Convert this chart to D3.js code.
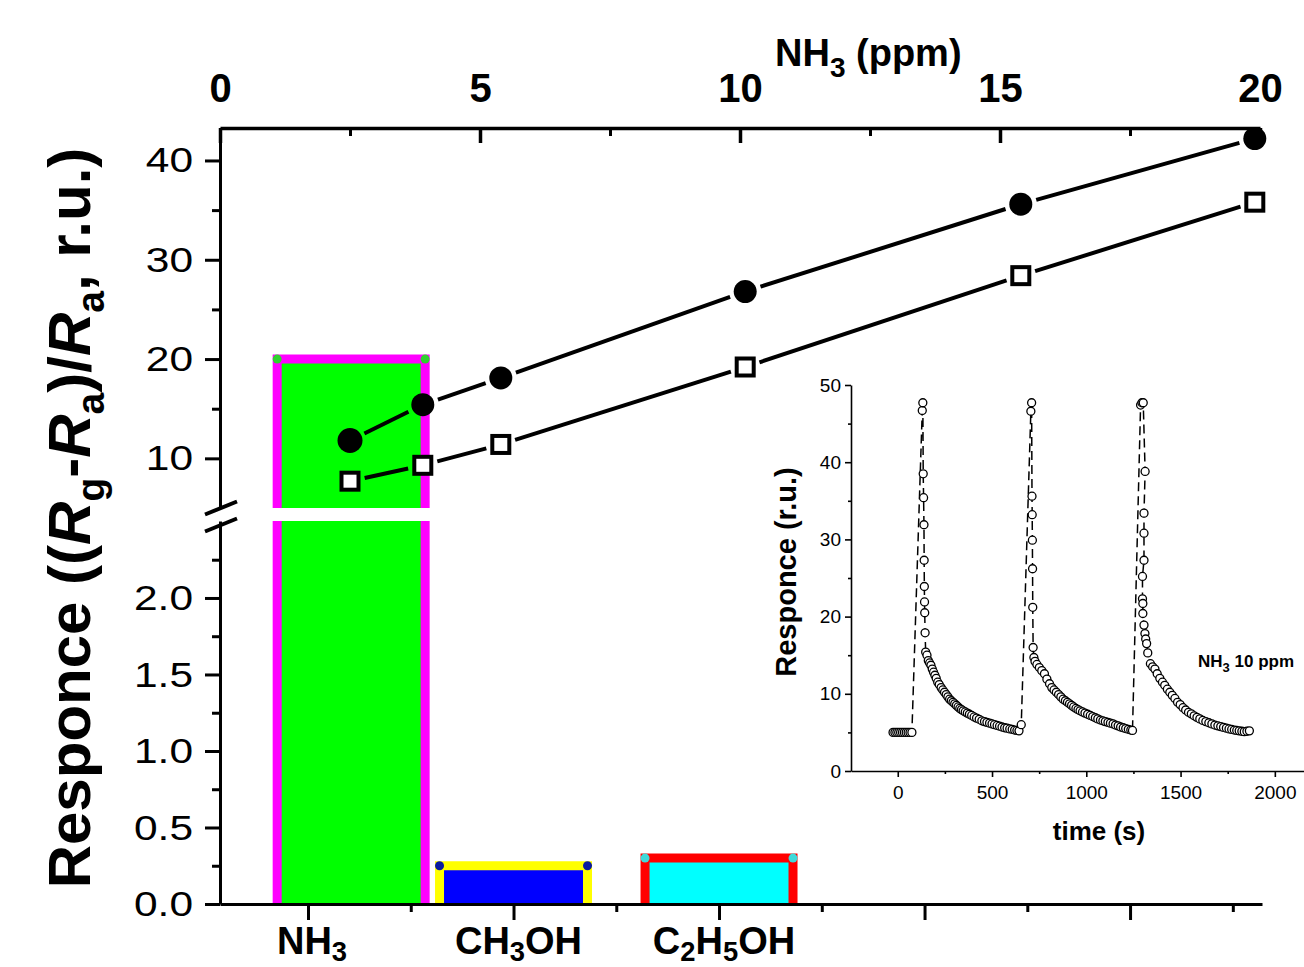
<!DOCTYPE html>
<html>
<head>
<meta charset="utf-8">
<script src="https://cdn.jsdelivr.net/npm/d3@7"></script>
<style>
  body { margin: 0; background: #fff; }
  svg { display: block; font-family: "Liberation Sans", Arial, sans-serif; }
</style>
</head>
<body>
<script>
// main plot: response vs NH3 concentration (top axis, upper y segment)
var ppm        = [2.5, 3.9, 5.4, 10.1, 15.4, 19.9];
var respClosed = [11.8, 15.4, 18.1, 26.8, 35.6, 42.2];
var respOpen   = [7.7, 9.3, 11.4, 19.2, 28.4, 35.8];

// bars: response to the three gases (bottom axis)
var gases    = ["NH3", "CH3OH", "C2H5OH"];
var gasPos   = [1.21, 2, 3];
var gasResp  = [20, 0.25, 0.30];
var gasFill  = ["#00ff00", "#0000ff", "#00ffff"];
var gasEdge  = ["#ff00ff", "#ffff00", "#ff0000"];
var gasDot   = ["#2fd12f", "#0a1aa0", "#3fd9d9"];

// tick labels
var topTicks     = [0, 5, 10, 15, 20];
var topMinor     = [2.5, 7.5, 12.5, 17.5];
var upTicks      = [10, 20, 30, 40];
var upMinor      = [15, 25, 35];
var loTicks      = [0, 0.5, 1.0, 1.5, 2.0];
var loMinor      = [0.25, 0.75, 1.25, 1.75, 2.25];
var catTicks     = [1, 2, 3, 4, 5];
var catMinor     = [1.5, 2.5, 3.5, 4.5, 5.5];

// inset: response vs time, NH3 10 ppm, three cycles
var pulse1T = [-25, -15, -5, 5, 15, 25, 35, 45, 55, 65, 75,
  130, 133, 135, 137, 139, 140, 141, 142, 143, 145, 148,
  155, 162, 169, 176, 183, 190, 197, 204, 212, 220, 230, 239, 248, 257, 266, 275, 284, 293, 302, 311,
  320, 329, 338, 347, 358, 369, 380, 392, 405, 418, 432, 446, 460, 473, 487, 500, 513, 527, 540, 553,
  567, 580, 594, 607, 620, 632, 643];
var pulse1R = [5, 5, 5, 5, 5, 5, 5, 5, 5, 5, 5,
  46.7, 47.7, 38.5, 35.4, 31.9, 27.3, 23.9, 21.9, 20.5, 17.9, 15.4,
  15.0, 14.3, 14.0, 13.7, 13.2, 12.8, 12.4, 12.0, 11.5, 11.2, 10.8, 10.5, 10.2, 9.9, 9.6, 9.3, 9.1, 8.9, 8.7, 8.5,
  8.3, 8.1, 7.95, 7.8, 7.65, 7.5, 7.35, 7.2, 7.0, 6.85, 6.7, 6.5, 6.4, 6.3, 6.2, 6.1, 6.0, 5.9, 5.8, 5.7,
  5.6, 5.55, 5.45, 5.4, 5.3, 5.25, 5.2];
var pulse2T = [655, 706, 710, 712, 713, 714, 715, 716, 718, 722,
  728, 738, 751, 764, 778, 791, 805, 817, 829, 841, 853, 865, 877, 889, 900, 911, 922, 933, 945, 956,
  967, 980, 993, 1007, 1021, 1034, 1048, 1061, 1075, 1088, 1101, 1115, 1128, 1142, 1155, 1169, 1182, 1196, 1209, 1223,
  1236, 1245];
var pulse2R = [6.0, 46.6, 47.7, 35.6, 33.2, 29.9, 26.2, 21.2, 16.0, 14.7,
  14.2, 13.8, 13.4, 13.0, 12.6, 11.9, 11.3, 10.8, 10.5, 10.2, 9.9, 9.6, 9.3, 9.1, 8.9, 8.7, 8.5, 8.3, 8.1, 7.95,
  7.8, 7.65, 7.5, 7.35, 7.2, 7.05, 6.9, 6.75, 6.6, 6.5, 6.4, 6.3, 6.2, 6.1, 5.95, 5.85, 5.7, 5.6, 5.5, 5.4,
  5.3, 5.25];
var pulse3T = [1288, 1295, 1302, 1312, 1306, 1306, 1306, 1298, 1298, 1300, 1300, 1306, 1311, 1315, 1320, 1326,
  1340, 1352, 1364, 1376, 1390, 1404, 1416, 1430, 1443, 1456, 1470, 1484, 1498, 1513, 1527, 1542, 1557, 1572, 1587, 1602,
  1618, 1634, 1650, 1666, 1682, 1698, 1713, 1728, 1743, 1757, 1771, 1785, 1798, 1811, 1825, 1838, 1852, 1865];
var pulse3R = [47.4, 47.7, 47.7, 38.8, 33.4, 30.8, 27.3, 25.2, 22.3, 21.7, 20.4, 18.9, 17.8, 17.1, 16.5, 15.3,
  13.9, 13.5, 13.2, 12.6, 12.0, 11.5, 11.1, 10.6, 10.2, 9.8, 9.4, 8.9, 8.6, 8.2, 7.9, 7.6, 7.4, 7.15, 6.95, 6.75,
  6.55, 6.4, 6.25, 6.1, 5.95, 5.85, 5.75, 5.65, 5.55, 5.45, 5.38, 5.3, 5.25, 5.2, 5.15, 5.1, 5.15, 5.2];
var insetXTicks = [0, 500, 1000, 1500, 2000];
var insetXMinor = [250, 750, 1250, 1750];
var insetYTicks = [0, 10, 20, 30, 40, 50];
var insetYMinor = [5, 15, 25, 35, 45];

var w = 1304, h = 967;
var svg = d3.select("body").append("svg").attr("width", w).attr("height", h);

// scales
var xTop = d3.scaleLinear().domain([0, 20]).range([220, 1260]);
var xCat = d3.scaleLinear().domain([0.5718, 5.642]).range([220, 1262]);
var yUp  = d3.scaleLinear().domain([5, 43.27]).range([508, 128]);
var yLo  = d3.scaleLinear().domain([0, 2.503]).range([904, 521]);

// bars (split across the axis break)
var barW = 0.72;
gases.forEach(function (g, i) {
  var x0 = xCat(gasPos[i] - barW / 2), x1 = xCat(gasPos[i] + barW / 2);
  var v = gasResp[i];
  var loMax = yLo.domain()[1], upMin = yUp.domain()[0];
  var segs = [{ y0: yLo(0), y1: yLo(Math.min(v, loMax)), cap: v <= loMax }];
  if (v > upMin) segs.push({ y0: yUp(upMin), y1: yUp(v), cap: true });

  segs.forEach(function (s) {
    svg.append("rect")
      .attr("x", x0).attr("y", s.y1)
      .attr("width", x1 - x0).attr("height", s.y0 - s.y1)
      .attr("fill", gasFill[i]);
    var p = d3.path();
    p.moveTo(x0, s.y0); p.lineTo(x0, s.y1);
    if (s.cap) p.lineTo(x1, s.y1); else p.moveTo(x1, s.y1);
    p.lineTo(x1, s.y0);
    svg.append("path").attr("d", p.toString())
      .attr("fill", "none").attr("stroke", gasEdge[i]).attr("stroke-width", 9);
    if (s.cap) {
      [x0, x1].forEach(function (cx) {
        svg.append("circle").attr("cx", cx).attr("cy", s.y1).attr("r", 4.5).attr("fill", gasDot[i]);
      });
    }
  });
});

function axisStyle(g, sw) {
  g.attr("font-family", null).attr("font-size", null);
  g.selectAll("line").attr("stroke", "#000").attr("stroke-width", sw);
  g.selectAll("path").attr("stroke", "#000").attr("stroke-width", sw);
  g.selectAll("text").attr("fill", "#000");
}

// top axis (ppm)
var gTop = svg.append("g").attr("transform", "translate(0,128)")
  .call(d3.axisTop(xTop).tickValues(topTicks).tickSizeInner(-15).tickSizeOuter(0).tickPadding(26));
axisStyle(gTop, 3.5);
gTop.selectAll("text").attr("font-size", 40).attr("font-weight", "bold");
var gTopM = svg.append("g").attr("transform", "translate(0,128)")
  .call(d3.axisTop(xTop).tickValues(topMinor).tickSizeInner(-8).tickSizeOuter(0).tickFormat(""));
gTopM.select(".domain").remove();
axisStyle(gTopM, 3);

// left axis, upper and lower parts
function leftAxis(scale, ticks, minor, fmt) {
  var g = svg.append("g").attr("transform", "translate(220,0)")
    .call(d3.axisLeft(scale).tickValues(ticks).tickSize(15).tickSizeOuter(0).tickFormat(fmt));
  axisStyle(g, 3);
  g.selectAll("text").attr("font-size", 36).attr("x", null)
    .attr("transform", "translate(-27,0) scale(1.18,1)");
  var gm = svg.append("g").attr("transform", "translate(220,0)")
    .call(d3.axisLeft(scale).tickValues(minor).tickSize(8).tickSizeOuter(0).tickFormat(""));
  gm.select(".domain").remove();
  axisStyle(gm, 3);
}
leftAxis(yUp, upTicks, upMinor, d3.format("d"));
leftAxis(yLo, loTicks, loMinor, d3.format(".1f"));

// break marks
[yUp.range()[0], yLo.range()[1] + 4].forEach(function (yy) {
  svg.append("line")
    .attr("x1", 205).attr("y1", yy + 6.5).attr("x2", 237).attr("y2", yy - 6.5)
    .attr("stroke", "#000").attr("stroke-width", 4);
});

// bottom axis (gases)
var gBot = svg.append("g").attr("transform", "translate(0,904)")
  .call(d3.axisBottom(xCat).tickValues(catTicks).tickSize(16).tickSizeOuter(0).tickFormat(""));
axisStyle(gBot, 3);
var gBotM = svg.append("g").attr("transform", "translate(0,904)")
  .call(d3.axisBottom(xCat).tickValues(catMinor).tickSize(8).tickSizeOuter(0).tickFormat(""));
gBotM.select(".domain").remove();
axisStyle(gBotM, 3);

// chemical formula with subscripts
function formula(sel, str, fs, shift) {
  var parts = str.match(/[A-Za-z()]+|\d+/g);
  var cur = 0;
  parts.forEach(function (p) {
    var isNum = /^\d+$/.test(p);
    var target = isNum ? shift : 0;
    sel.append("tspan").text(p)
      .attr("font-size", isNum ? fs * 0.72 : fs)
      .attr("dy", target - cur);
    cur = target;
  });
}
gases.forEach(function (g, i) {
  var t = svg.append("text")
    .attr("x", xCat(catTicks[i]) + (i === 0 ? 4 : 5)).attr("y", 954)
    .attr("text-anchor", "middle").attr("font-weight", "bold").attr("font-size", 38);
  formula(t, g, 38, 7);
});

// top axis title
var tt = svg.append("text").attr("x", 775).attr("y", 66)
  .attr("font-weight", "bold").attr("font-size", 38);
tt.append("tspan").text("NH");
tt.append("tspan").text("3").attr("font-size", 28).attr("dy", 11);
tt.append("tspan").text(" (ppm)").attr("dy", -11);

// left axis title
var yl = svg.append("text")
  .attr("transform", "translate(90,518) rotate(-90)")
  .attr("text-anchor", "middle").attr("font-weight", "bold").attr("font-size", 60);
yl.append("tspan").text("Responce ((");
yl.append("tspan").text("R").attr("font-style", "italic");
yl.append("tspan").text("g").attr("font-size", 39).attr("dy", 14);
yl.append("tspan").text("-").attr("dy", -14);
yl.append("tspan").text("R").attr("font-style", "italic");
yl.append("tspan").text("a").attr("font-size", 39).attr("dy", 14);
yl.append("tspan").text(")/").attr("dy", -14);
yl.append("tspan").text("R").attr("font-style", "italic");
yl.append("tspan").text("a").attr("font-size", 39).attr("dy", 14);
yl.append("tspan").text(", r.u.)").attr("dy", -14);

// NH3 lines with markers (line ends stop short of markers)
function seriesLine(vals, gap) {
  var pts = ppm.map(function (d, i) { return [xTop(d), yUp(vals[i])]; });
  d3.pairs(pts).forEach(function (pr) {
    var dx = pr[1][0] - pr[0][0], dy = pr[1][1] - pr[0][1];
    var L = Math.sqrt(dx * dx + dy * dy), ux = dx / L, uy = dy / L;
    svg.append("line")
      .attr("x1", pr[0][0] + ux * gap).attr("y1", pr[0][1] + uy * gap)
      .attr("x2", pr[1][0] - ux * gap).attr("y2", pr[1][1] - uy * gap)
      .attr("stroke", "#000").attr("stroke-width", 4);
  });
  return pts;
}
var ptsC = seriesLine(respClosed, 16);
var ptsO = seriesLine(respOpen, 15);
svg.selectAll("circle.cl").data(ptsC).enter().append("circle").attr("class", "cl")
  .attr("cx", function (d) { return d[0]; }).attr("cy", function (d) { return d[1]; })
  .attr("r", function (d, i) { return i === 0 ? 12.5 : 11.5; }).attr("fill", "#000");
svg.selectAll("rect.op").data(ptsO).enter().append("rect").attr("class", "op")
  .attr("x", function (d) { return d[0] - 8.5; }).attr("y", function (d) { return d[1] - 8.5; })
  .attr("width", 17).attr("height", 17)
  .attr("fill", "#fff").attr("stroke", "#000").attr("stroke-width", 4);

// ---------- inset ----------
var xIn = d3.scaleLinear().domain([-248, 2160]).range([851, 1305]);
var yIn = d3.scaleLinear().domain([0, 50]).range([771, 385]);

var gIx = svg.append("g").attr("transform", "translate(0,771)")
  .call(d3.axisBottom(xIn).tickValues(insetXTicks).tickSize(6).tickSizeOuter(0).tickPadding(9)
    .tickFormat(d3.format("d")));
axisStyle(gIx, 1.6);
gIx.selectAll("text").attr("font-size", 19);
var gIxm = svg.append("g").attr("transform", "translate(0,771)")
  .call(d3.axisBottom(xIn).tickValues(insetXMinor).tickSize(3).tickSizeOuter(0).tickFormat(""));
gIxm.select(".domain").remove();
axisStyle(gIxm, 1.6);

var gIy = svg.append("g").attr("transform", "translate(851,0)")
  .call(d3.axisLeft(yIn).tickValues(insetYTicks).tickSize(6).tickSizeOuter(0).tickPadding(4));
axisStyle(gIy, 1.6);
gIy.selectAll("text").attr("font-size", 19);
var gIym = svg.append("g").attr("transform", "translate(851,0)")
  .call(d3.axisLeft(yIn).tickValues(insetYMinor).tickSize(3).tickSizeOuter(0).tickFormat(""));
gIym.select(".domain").remove();
axisStyle(gIym, 1.6);

var insetData = [];
[[pulse1T, pulse1R], [pulse2T, pulse2R], [pulse3T, pulse3R]].forEach(function (p) {
  p[0].forEach(function (t, i) { insetData.push([t, p[1][i]]); });
});
svg.append("path").datum(insetData)
  .attr("d", d3.line().x(function (d) { return xIn(d[0]); }).y(function (d) { return yIn(d[1]); }))
  .attr("fill", "none").attr("stroke", "#000").attr("stroke-width", 1.5)
  .attr("stroke-dasharray", "9,5");
svg.selectAll("circle.in").data(insetData).enter().append("circle").attr("class", "in")
  .attr("cx", function (d) { return xIn(d[0]); }).attr("cy", function (d) { return yIn(d[1]); })
  .attr("r", 4).attr("fill", "#fff").attr("stroke", "#000").attr("stroke-width", 1.3);

svg.append("text").attr("x", 1099).attr("y", 840).attr("text-anchor", "middle")
  .attr("font-weight", "bold").attr("font-size", 26).text("time (s)");
svg.append("text").attr("transform", "translate(796,572) rotate(-90)").attr("text-anchor", "middle")
  .attr("font-weight", "bold").attr("font-size", 29).text("Responce (r.u.)");
var nl = svg.append("text").attr("x", 1198).attr("y", 667)
  .attr("font-weight", "bold").attr("font-size", 17);
nl.append("tspan").text("NH");
nl.append("tspan").text("3").attr("font-size", 13).attr("dy", 5);
nl.append("tspan").text(" 10 ppm").attr("dy", -5);
</script>
</body>
</html>
